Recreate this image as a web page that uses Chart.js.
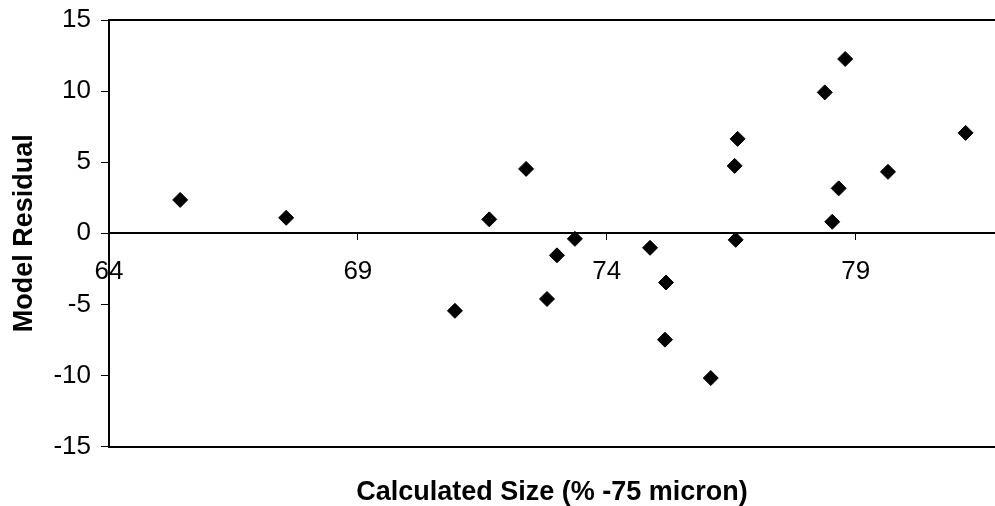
<!DOCTYPE html>
<html>
<head>
<meta charset="utf-8">
<title>Model Residual</title>
<script src="https://cdn.jsdelivr.net/npm/chart.js"></script>
<style>
	body { margin: 0; background: #fff; }
	#wrap { width: 995px; height: 506px; }
</style>
</head>
<body>
<div id="wrap"><canvas id="residual-chart" width="995" height="506"></canvas></div>
<script>
// values
var sizeCalc = [65.43, 67.56, 70.95, 71.64, 72.38, 72.80, 73.00, 73.36, 74.87, 75.17, 75.19,
	76.09, 76.57, 76.59, 76.63, 78.38, 78.53, 78.66, 78.79, 79.65, 81.21];
var residual = [2.35, 1.09, -5.45, 0.98, 4.53, -4.62, -1.55, -0.39, -1.02, -7.48, -3.46,
	-10.18, 4.74, -0.46, 6.64, 9.91, 0.81, 3.16, 12.26, 4.32, 7.06];
var xTicks = [64, 69, 74, 79];
var xMin = 64, xMax = 81.8;
var yMin = -15, yMax = 15, yStep = 5;
var xTitle = "Calculated Size (% -75 micron)";
var yTitle = "Model Residual";

var fam = "'Liberation Sans', Arial, sans-serif";

var points = [];
for (var i = 0; i < sizeCalc.length; i++) {
	points.push({ x : sizeCalc[i], y : residual[i] });
}

var ctx = document.getElementById("residual-chart");

var data = {
	datasets : [
		{
			label : yTitle,
			data : points,
			pointStyle : "rectRot",
			pointRadius : 7.5,
			pointBorderWidth : 1,
			backgroundColor : "#000",
			borderColor : "#000",
			showLine : false
		}
	]
};

// end labels may hang over the plot frame, as in the original
function noEdgePadding(scale) {
	scale.paddingTop = 0;
	scale.paddingBottom = 0;
	scale.paddingLeft = 0;
	scale.paddingRight = 0;
}

var options = {
	responsive : false,
	animation : false,
	layout : {
		autoPadding : false,
		padding : { top : 20, right : 0, bottom : 0, left : 0 }
	},
	plugins : {
		legend : { display : false },
		tooltip : { enabled : false }
	},
	scales : {
		x : {
			type : "linear",
			position : { y : 0 },
			min : xMin,
			max : xMax,
			afterBuildTicks : function(scale) {
				scale.ticks = xTicks.map(function(v) { return { value : v }; });
			},
			afterFit : noEdgePadding,
			grid : { drawOnChartArea : false, tickLength : 6, color : "#000" },
			border : { color : "#000", width : 2 },
			ticks : {
				color : "#000",
				font : { family : fam, size : 26 },
				padding : 17,
				maxRotation : 0,
				autoSkip : false
			}
		},
		xTop : {
			type : "linear",
			position : "top",
			min : xMin,
			max : xMax,
			grid : { drawOnChartArea : false, drawTicks : false },
			border : { color : "#000", width : 2 },
			ticks : { display : false }
		},
		xBottom : {
			type : "linear",
			position : "bottom",
			min : xMin,
			max : xMax,
			grid : { drawOnChartArea : false, drawTicks : false },
			border : { color : "#000", width : 2 },
			ticks : { display : false },
			title : {
				display : true,
				text : xTitle,
				color : "#000",
				font : { family : fam, size : 27, weight : "bold" },
				padding : { top : 30, bottom : -3 }
			}
		},
		y : {
			type : "linear",
			position : "left",
			min : yMin,
			max : yMax,
			afterFit : noEdgePadding,
			grid : { drawOnChartArea : false, tickLength : 8, color : "#000" },
			border : { color : "#000", width : 2 },
			ticks : {
				stepSize : yStep,
				color : "#000",
				font : { family : fam, size : 26 },
				padding : 10
			},
			title : {
				display : true,
				text : yTitle,
				color : "#000",
				font : { family : fam, size : 27, weight : "bold" },
				padding : { top : 8, bottom : 3 }
			}
		}
	}
};

var chart = new Chart(ctx, {
	type : "scatter",
	data : data,
	options : options
});
</script>
</body>
</html>
